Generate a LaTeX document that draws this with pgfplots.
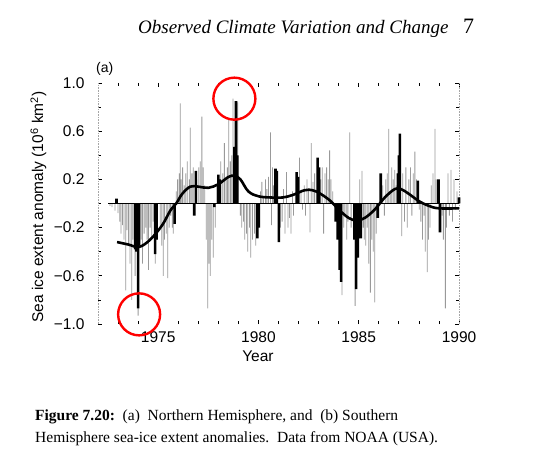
\documentclass[border=0pt]{standalone}
\usepackage{pgfplots}
\usepackage{pgfplotstable}
\pgfplotsset{compat=1.18}
\usepackage{fontspec}
\setmainfont{Liberation Serif}
\newfontfamily\chartfont{Liberation Sans}

\pgfplotstableread{
x y
1972.60 -0.02
1972.70 -0.03
1972.85 -0.06
1973.00 -0.08
1973.08 -0.15
1973.15 -0.25
1973.22 -0.18
1973.30 -0.30
1973.38 -0.72
1973.45 -0.22
1973.52 -0.35
1973.60 -0.50
1973.68 -0.80
1973.75 -0.30
1973.85 -0.60
1974.00 -0.93
1974.15 -0.30
1974.22 -0.50
1974.30 -0.25
1974.38 -0.20
1974.45 -0.30
1974.52 -0.55
1974.60 -0.20
1974.68 -0.30
1974.75 -0.15
1974.85 -0.50
1974.95 -0.30
1975.10 -0.20
1975.18 -0.35
1975.25 -0.60
1975.32 -0.30
1975.40 -0.25
1975.48 -0.62
1975.55 -0.20
1975.62 -0.10
1975.70 -0.20
1975.75 -0.25
1975.90 0.10
1975.97 0.20
1976.05 0.25
1976.10 0.83
1976.15 0.20
1976.22 0.30
1976.30 0.15
1976.38 0.25
1976.45 0.35
1976.55 0.20
1976.60 0.63
1976.68 0.25
1976.75 0.30
1976.92 0.20
1977.02 0.30
1977.10 0.35
1977.18 0.72
1977.25 0.30
1977.32 0.15
1977.40 -0.30
1977.47 -0.87
1977.53 -0.50
1977.60 -0.60
1977.67 -0.30
1977.75 -0.45
1977.85 -0.20
1977.92 0.15
1978.12 0.35
1978.22 0.25
1978.30 0.50
1978.38 0.20
1978.45 0.30
1978.52 0.70
1978.60 0.35
1978.67 0.40
1978.73 0.87
1978.97 0.84
1979.10 -0.10
1979.17 -0.20
1979.25 -0.15
1979.32 -0.30
1979.40 -0.25
1979.47 -0.40
1979.55 -0.20
1979.62 -0.45
1979.70 -0.30
1979.80 -0.25
1979.87 -0.35
1980.10 0.10
1980.17 0.18
1980.25 0.05
1980.35 0.20
1980.42 0.12
1980.50 0.22
1980.60 0.59
1980.65 -0.18
1980.70 0.30
1980.75 0.15
1981.10 -0.20
1981.18 -0.15
1981.25 0.12
1981.32 -0.25
1981.40 0.26
1981.47 -0.20
1981.55 -0.12
1981.62 -0.25
1981.70 0.10
1981.75 -0.10
1982.05 0.38
1982.12 0.10
1982.20 -0.05
1982.28 0.15
1982.35 -0.10
1982.42 0.20
1982.50 0.12
1982.57 -0.24
1982.63 0.50
1982.72 0.18
1982.80 0.25
1983.10 0.20
1983.18 0.30
1983.25 -0.25
1983.32 0.25
1983.40 0.30
1983.48 0.20
1983.55 0.44
1983.62 0.20
1983.70 0.10
1984.17 -0.76
1984.25 -0.20
1984.32 -0.10
1984.40 -0.30
1984.47 -0.15
1984.55 0.59
1984.62 -0.20
1984.82 -0.85
1985.05 0.20
1985.16 0.27
1985.22 -0.20
1985.28 -0.30
1985.35 -0.35
1985.42 -0.20
1985.50 -0.50
1985.58 -0.74
1985.65 -0.30
1985.72 -0.40
1985.80 -0.82
1985.87 -0.25
1986.20 0.15
1986.28 -0.10
1986.35 0.20
1986.42 0.25
1986.50 0.62
1986.57 0.10
1986.65 0.30
1986.72 0.20
1986.80 0.28
1986.87 0.15
1987.15 -0.27
1987.20 0.25
1987.28 -0.15
1987.35 0.30
1987.42 -0.20
1987.50 0.20
1987.58 0.30
1987.65 -0.10
1987.72 0.25
1987.80 0.43
1987.88 0.20
1988.02 -0.05
1988.10 -0.15
1988.18 -0.30
1988.25 -0.10
1988.32 -0.40
1988.42 -0.57
1988.48 -0.30
1988.55 -0.20
1988.62 0.15
1988.70 0.25
1988.80 0.62
1988.87 0.20
1989.15 -0.10
1989.22 -0.30
1989.32 -0.87
1989.38 -0.20
1989.45 0.25
1989.52 -0.10
1989.60 0.28
1989.68 -0.15
1989.75 0.20
1989.82 -0.05
1989.90 0.10
}\greydata

\pgfplotstableread{
x y
1972.92 0.04
1973.85 -0.38
1973.92 -0.40
1974.00 -0.87
1974.05 -0.35
1974.85 -0.42
1974.92 -0.30
1975.82 -0.17
1976.80 -0.10
1976.88 0.27
1977.80 -0.03
1978.00 0.24
1978.07 0.20
1978.80 0.47
1978.88 0.85
1978.95 0.40
1979.95 -0.29
1980.02 -0.20
1980.85 0.29
1980.92 0.27
1981.02 -0.32
1981.90 0.26
1981.97 0.22
1982.95 0.38
1983.02 0.30
1983.85 -0.15
1983.95 -0.30
1984.05 -0.55
1984.12 -0.65
1984.78 -0.30
1984.87 -0.71
1984.95 -0.45
1985.10 -0.29
1985.95 -0.12
1986.10 0.25
1986.95 0.25
1987.00 0.40
1987.05 0.58
1987.95 0.19
1988.98 0.20
1989.05 -0.24
1990.00 0.05
}\blackdata

\pgfplotstableread{
x y
1972.95 -0.32
1973.50 -0.34
1974.05 -0.36
1974.60 -0.30
1975.20 -0.18
1975.60 -0.06
1975.90 0.00
1976.20 0.08
1976.60 0.14
1977.00 0.14
1977.50 0.13
1978.00 0.16
1978.50 0.22
1978.80 0.23
1979.10 0.20
1979.50 0.10
1980.00 0.06
1980.60 0.05
1981.20 0.05
1981.70 0.07
1982.30 0.11
1982.70 0.11
1983.10 0.08
1983.60 0.02
1984.00 -0.05
1984.50 -0.12
1984.90 -0.14
1985.30 -0.12
1985.80 -0.05
1986.30 0.05
1986.80 0.12
1987.10 0.12
1987.50 0.08
1988.00 0.02
1988.50 -0.02
1989.00 -0.04
1990.00 -0.04
}\smoothdata

\begin{document}
\begin{tikzpicture}
\useasboundingbox (0,0) rectangle (535pt,474pt);
\node[anchor=base west, inner sep=0pt, font=\fontsize{19}{22}\selectfont\itshape] at (138pt,440pt) {Observed Climate Variation and Change};
\node[anchor=base west, inner sep=0pt, font=\fontsize{22}{24}\selectfont] at (463pt,440pt) {7};
\node[anchor=base west, inner sep=0pt, font=\fontsize{14}{16}\selectfont\chartfont] at (96pt,401pt) {(a)};
\begin{axis}[
  at={(98pt,150pt)}, anchor=south west,
  scale only axis, width=361pt, height=241pt,
  xmin=1972, xmax=1990, ymin=-1, ymax=1,
  clip=false,
  separate axis lines,
  x axis line style={draw=none},
  y axis line style={draw=gray!70, line width=0.6pt, densely dotted},
  axis x line*=box, axis y line*=box,
  xtick={1975,1980,1985,1990},
  xticklabels={1975,1980,1985,1990},
  minor xtick={1973,1974,1976,1977,1978,1979,1981,1982,1983,1984,1986,1987,1988,1989},
  ytick={-1,-0.6,-0.2,0.2,0.6,1},
  yticklabels={−1.0,−0.6,−0.2,0.2,0.6,1.0},
  minor ytick={-0.8,-0.4,0,0.4,0.8},
  tick align=inside,
  major tick length=4pt, minor tick length=3pt,
  tick style={black, line width=0.7pt},
  ticklabel style={font=\fontsize{15.5}{17}\selectfont\chartfont},
  xticklabel style={yshift=-4pt},
  yticklabel style={xshift=-10pt},
  xlabel={Year},
  ylabel={Sea ice extent anomaly (10\textsuperscript{6} km\textsuperscript{2})},
  every axis x label/.style={at={(axis description cs:0.443,-0.133)}, anchor=center, font=\fontsize{15.5}{17}\selectfont\chartfont},
  every axis y label/.style={at={(axis description cs:-0.165,0.485)}, rotate=90, anchor=center, font=\fontsize{15.5}{17}\selectfont\chartfont},
]
\addplot[ybar, bar width=0.8pt, bar shift=0pt, fill=black!40, draw=none] table {\greydata};
\addplot[ybar, bar width=2.6pt, bar shift=0pt, fill=black, draw=none] table {\blackdata};
\addplot[black, line width=0.8pt] coordinates {(1972.5,0) (1990,0)};
\addplot[black, line width=2.6pt, smooth, tension=0.6] table {\smoothdata};
\draw[red, line width=2.4pt] (axis cs:1978.8,0.87) circle[radius=21pt];
\draw[red, line width=2.4pt] (axis cs:1974.05,-0.92) circle[radius=21pt];
\end{axis}
\node[anchor=base west, inner sep=0pt, font=\fontsize{15.5}{17}\selectfont] at (35pt,54pt) {\textbf{Figure 7.20:}\ \ (a)\ \ Northern Hemisphere, and\ \ (b) Southern};
\node[anchor=base west, inner sep=0pt, font=\fontsize{15.5}{17}\selectfont] at (35pt,32pt) {Hemisphere sea-ice extent anomalies.\ \ Data from NOAA (USA).};
\end{tikzpicture}
\end{document}
